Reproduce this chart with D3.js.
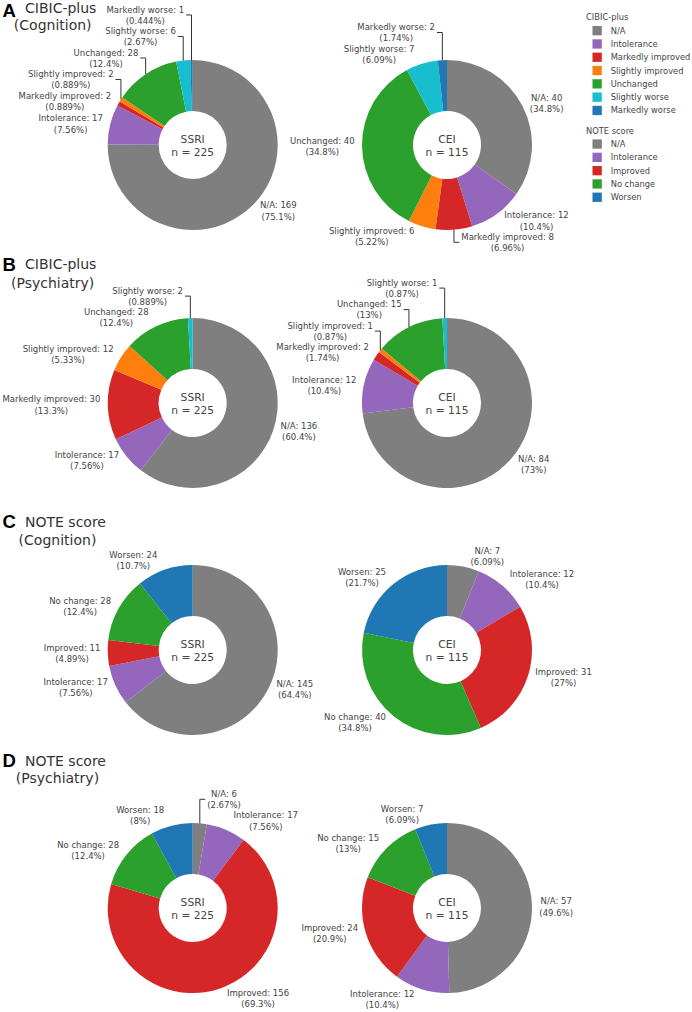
<!DOCTYPE html>
<html>
<head>
<meta charset="utf-8">
<script src="https://cdn.jsdelivr.net/npm/d3@7"></script>
<style>
	body { margin: 0; background: #fff; }
	svg text { font-family: 'DejaVu Sans', Verdana, sans-serif; }
</style>
</head>
<body>
<svg id="chart" width="692" height="1012"></svg>
<script>
// categories, colours
var cibicCats = ['N/A', 'Intolerance', 'Markedly improved', 'Slightly improved', 'Unchanged', 'Slightly worse', 'Markedly worse'];
var cibicColors = ['#7f7f7f', '#9467bd', '#d62728', '#ff7f0e', '#2ca02c', '#17becf', '#1f77b4'];
var noteCats = ['N/A', 'Intolerance', 'Improved', 'No change', 'Worsen'];
var noteColors = ['#7f7f7f', '#9467bd', '#d62728', '#2ca02c', '#1f77b4'];

var groups = ['SSRI', 'CEI'];
var groupN = [225, 115];

// counts per category, in the order of the category lists
var cibicCognitionSSRI = [169, 17, 2, 2, 28, 6, 1];
var cibicCognitionCEI = [40, 12, 8, 6, 40, 7, 2];
var cibicPsychiatrySSRI = [136, 17, 30, 12, 28, 2, 0];
var cibicPsychiatryCEI = [84, 12, 2, 1, 15, 1, 0];
var noteCognitionSSRI = [145, 17, 11, 28, 24];
var noteCognitionCEI = [7, 12, 31, 40, 25];
var notePsychiatrySSRI = [6, 17, 156, 28, 18];
var notePsychiatryCEI = [57, 12, 24, 15, 7];

var panelLetters = ['A', 'B', 'C', 'D'];
var panelTitles = [['CIBIC-plus', '(Cognition)'], ['CIBIC-plus', '(Psychiatry)'], ['NOTE score', '(Cognition)'], ['NOTE score', '(Psychiatry)']];
var legendTitles = ['CIBIC-plus', 'NOTE score'];

// layout
var pieX = [192.7, 447],
	pieY = [145, 403, 650, 908],
	letterY = [17.3, 270.7, 528, 766.5],
	titleY = [[13.3, 30.3], [269.3, 287.7], [527.3, 545], [766, 783.3]],
	R = 85,
	hole = 0.4,
	labelFont = 8.5,
	labelH = 21.5;

var svg = d3.select('#chart');
var fmtPct = d3.format('.3~r');

function DonutPlot(parent, values, cats, colors, conf) {
	this.values = values;
	this.cats = cats;
	this.colors = colors;
	this.config = conf;
	this.g = parent.append('g').attr('transform', 'translate(' + conf.cx + ',' + conf.cy + ')');

	this.draw()
		.placeLabels()
		.scoot()
		.drawLabels();
}

DonutPlot.prototype = {
	draw: function () {
		var self = this,
			conf = self.config,
			color = d3.scaleOrdinal().domain(self.cats).range(self.colors);

		self.arcs = d3.pie().sort(null).value(function (d) {return d.v;})
			(self.values.map(function (v, i) {return {v: v, cat: self.cats[i]};}));

		var arc = d3.arc().innerRadius(R * hole).outerRadius(R);

		self.g.selectAll('path.slice').data(self.arcs.filter(function (d) {return d.data.v > 0;}))
			.enter().append('path')
			.attr('class', 'slice')
			.attr('d', arc)
			.attr('fill', function (d) {return color(d.data.cat);});

		// centre annotation
		var c = self.g.append('text').attr('text-anchor', 'middle').attr('fill', '#444').style('font-size', '10.7px');
		c.append('tspan').attr('x', 0).attr('y', -1.7).text(conf.group);
		c.append('tspan').attr('x', 0).attr('y', 10.7).text('n = ' + conf.n);
		return this;
	},
	placeLabels: function () {
		var self = this,
			total = d3.sum(self.values);

		self.labels = [];
		self.arcs.forEach(function (d) {
			if (d.data.v <= 0) return;
			var mid = (d.startAngle + d.endAngle) / 2,
				px = R * Math.sin(mid),
				py = -R * Math.cos(mid),
				lines = [d.data.cat + ': ' + d.data.v, '(' + fmtPct(d.data.v / total * 100) + '%)'];

			var t = self.g.append('text').attr('class', 'plabel').attr('text-anchor', 'middle')
				.attr('fill', '#444').style('font-size', labelFont + 'px');
			t.selectAll('tspan').data(lines).enter().append('tspan').text(function (s) {return s;});
			var w = d3.max(t.selectAll('tspan').nodes(), function (n) {return n.getComputedTextLength();}) + 4;

			// outside text placement, same rule as plotly
			var dx = px < 0 ? -w / 2 : w / 2,
				dy = py < 0 ? -labelH / 2 : labelH / 2,
				tx = dx + Math.abs(dy) * (dx > 0 ? 1 : -1) / 2,
				ty = dy / (1 + px * px / (py * py));

			self.labels.push({
				node: t, px: px, py: py,
				x: px + tx, yMid: py + ty,
				yMin: py + ty - labelH / 2, yMax: py + ty + labelH / 2,
				extraY: 0
			});
		});
		return this;
	},
	scoot: function () {
		var quads = [[[], []], [[], []]];
		this.labels.forEach(function (p) {
			quads[p.py < 0 ? 0 : 1][p.px < 0 ? 0 : 1].push(p);
		});

		for (var yHalf = 0; yHalf < 2; yHalf++) {
			var sorter = yHalf ? function (a, b) {return a.py - b.py;} : function (a, b) {return b.py - a.py;},
				sign = yHalf ? 1 : -1;
			for (var xHalf = 0; xHalf < 2; xHalf++) {
				var quad = quads[yHalf][xHalf].sort(sorter),
					opp = quads[1 - yHalf][xHalf];
				for (var i = 0; i < quad.length; i++) {
					var prev = i ? quad[i - 1] : (yHalf && opp.length ? opp[0] : null);
					if (!prev) continue;
					var prevOuter = prev.extraY + (yHalf ? prev.yMax : prev.yMin),
						thisInner = yHalf ? quad[i].yMin : quad[i].yMax,
						shift = prevOuter - thisInner;
					if (shift * sign > 0) quad[i].extraY = shift;
				}
			}
		}
		return this;
	},
	drawLabels: function () {
		var self = this;

		self.labels.forEach(function (p) {
			var m = p.yMid + p.extraY;
			p.node.selectAll('tspan')
				.attr('x', p.x)
				.attr('y', function (s, i) {return m - 2.4 + i * 11.2;});

			if (p.extraY) {
				self.g.append('path')
					.attr('d', 'M' + p.px + ',' + p.py + 'V' + m + 'h' + (labelH / 4 * (p.px < 0 ? -1 : 1)))
					.attr('fill', 'none')
					.attr('stroke', '#333')
					.attr('stroke-width', 1);
			}
		});
		return this;
	}
};

var panels = [
	[cibicCognitionSSRI, cibicCognitionCEI, cibicCats, cibicColors],
	[cibicPsychiatrySSRI, cibicPsychiatryCEI, cibicCats, cibicColors],
	[noteCognitionSSRI, noteCognitionCEI, noteCats, noteColors],
	[notePsychiatrySSRI, notePsychiatryCEI, noteCats, noteColors]
];

panels.forEach(function (p, k) {
	// panel letter and title
	svg.append('text').attr('x', 2.5).attr('y', letterY[k])
		.style('font-family', "'Liberation Sans', Arial, sans-serif")
		.style('font-weight', 'bold').style('font-size', '18.5px')
		.text(panelLetters[k]);

	var t1 = svg.append('text').attr('x', 25).attr('y', titleY[k][0])
		.attr('fill', '#333').style('font-size', '14px').text(panelTitles[k][0]);
	var mid1 = 25 + t1.node().getComputedTextLength() / 2;
	svg.append('text').attr('x', mid1 - 8).attr('y', titleY[k][1]).attr('text-anchor', 'middle')
		.attr('fill', '#333').style('font-size', '14px').text(panelTitles[k][1]);

	groups.forEach(function (grp, j) {
		new DonutPlot(svg, p[j], p[2], p[3], {cx: pieX[j], cy: pieY[k], group: grp, n: groupN[j]});
	});
});

// legend
var legend = svg.append('g').attr('class', 'legend').attr('transform', 'translate(586, 0)');
[[cibicCats, cibicColors, 17.3], [noteCats, noteColors, 130.7]].forEach(function (l, k) {
	var g = legend.append('g').attr('transform', 'translate(0,' + l[2] + ')');
	g.append('text').attr('x', 0).attr('y', 3).attr('fill', '#444')
		.style('font-size', '8.3px').text(legendTitles[k]);
	var item = g.selectAll('g.item').data(l[0]).enter().append('g').attr('class', 'item')
		.attr('transform', function (d, i) {return 'translate(0,' + (13.3 * (i + 1)) + ')';});
	item.append('rect').attr('x', 6.5).attr('y', -4.6).attr('width', 9.3).attr('height', 9.3)
		.attr('fill', function (d, i) {return l[1][i];});
	item.append('text').attr('x', 24.7).attr('y', 3).attr('fill', '#444')
		.style('font-size', '8.3px').text(function (d) {return d;});
});
</script>
</body>
</html>
